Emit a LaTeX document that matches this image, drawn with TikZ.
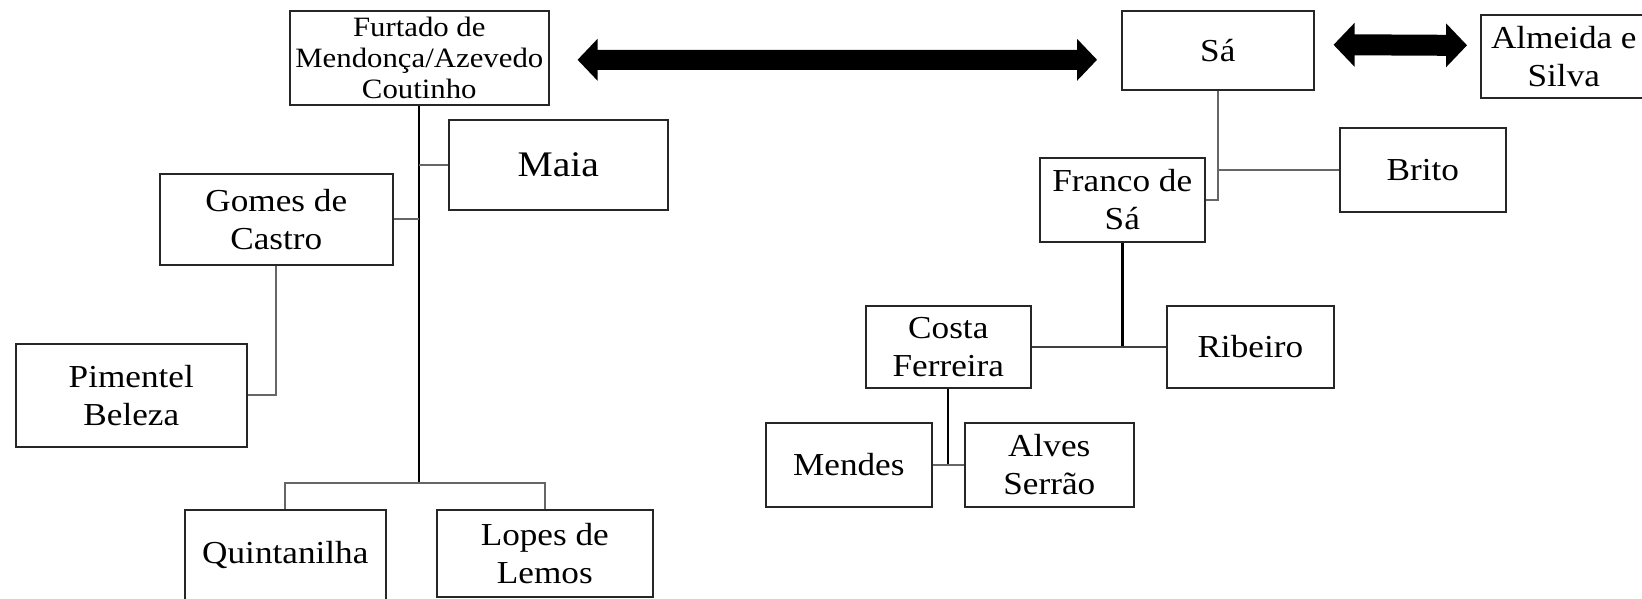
\documentclass[tikz,border=0pt]{standalone}
\usepackage{fontspec}
\setmainfont{Liberation Serif}[FakeStretch=1.1]
\usetikzlibrary{calc}
\tikzset{
  box/.style={draw=black!85, line width=1.6pt, inner sep=0pt, align=center,
    anchor=north west, font=\fontsize{32}{38}\selectfont},
  trunk/.style={draw=black, line width=2pt},
  branch/.style={draw=black!60, line width=1.8pt},
  bigarrowfill/.style={fill=black}
}
\newcommand\bigdarrow[5]{%
  \fill[bigarrowfill] (#1) -- ($(#1)+(#3,-#4)$) -- ($(#1)+(#3,-#5)$) -- ($(#2)+(-#3,-#5)$)
    -- ($(#2)+(-#3,-#4)$) -- (#2) -- ($(#2)+(-#3,#4)$) -- ($(#2)+(-#3,#5)$)
    -- ($(#1)+(#3,#5)$) -- ($(#1)+(#3,#4)$) -- cycle;}
\begin{document}
\begin{tikzpicture}[x=1pt,y=-1pt]
\useasboundingbox (0,0) rectangle (1642,599);
\clip (0,0) rectangle (1642,599);
% left tree
\node[box, minimum width=259pt, minimum height=94pt, font=\fontsize{28}{31}\selectfont] (fur) at (289,10) {Furtado de\\Mendonça/Azevedo\\Coutinho};
\node[box, minimum width=219pt, minimum height=90pt, font=\fontsize{36}{42}\selectfont] (maia) at (448,119) {Maia};
\node[box, minimum width=233pt, minimum height=91pt] (gomes) at (159,173) {Gomes de\\Castro};
\node[box, minimum width=231pt, minimum height=103pt] (pim) at (15,343) {Pimentel\\Beleza};
\node[box, minimum width=201pt, text height=54pt, text depth=87pt] (quin) at (184,509) {Quintanilha};
\node[box, minimum width=216pt, minimum height=87pt] (lopes) at (436,509) {Lopes de\\Lemos};
% right tree
\node[box, minimum width=192pt, minimum height=79pt] (sa) at (1121,10) {Sá};
\node[box, minimum width=166pt, minimum height=83pt] (alm) at (1480,14) {Almeida e\\Silva};
\node[box, minimum width=166pt, minimum height=84pt] (brito) at (1339,127) {Brito};
\node[box, minimum width=165pt, minimum height=84pt] (franco) at (1039,157) {Franco de\\Sá};
\node[box, minimum width=165pt, minimum height=82pt] (costa) at (865,305) {Costa\\Ferreira};
\node[box, minimum width=167pt, minimum height=82pt] (rib) at (1166,305) {Ribeiro};
\node[box, minimum width=166pt, minimum height=84pt] (mendes) at (765,422) {Mendes};
\node[box, minimum width=169pt, minimum height=84pt] (alves) at (964,422) {Alves\\Serrão};
% left connectors
\coordinate (j1) at (fur.south |- 0,483);
\draw[trunk] (fur.south) -- (j1);
\draw[branch] (maia.west) -- (maia.west -| fur.south);
\draw[branch] (gomes.east) -- (gomes.east -| fur.south);
\draw[branch] (gomes.south) |- (pim.east);
\draw[branch] (quin.north) |- (j1) -| (lopes.north);
% right connectors
\draw[branch] (sa.south) |- (franco.east);
\draw[branch] (brito.west) -- (brito.west -| sa.south);
\coordinate (j2) at (franco.south |- costa.east);
\draw[trunk, line width=2.4pt] (franco.south) -- (j2);
\draw[branch, draw=black!75] (costa.east) -- (rib.west);
\draw[trunk] (costa.south) -- (costa.south |- mendes.east);
\draw[branch] (mendes.east) -- (alves.west);
% double arrows
\coordinate (a1) at ([shift={(28,2)}]fur.east);
\coordinate (a2) at ([shift={(-24,9.5)}]sa.west);
\bigdarrow{a1}{a2}{20}{21}{10}
\coordinate (a3) at ([shift={(19,-5.5)}]sa.east);
\coordinate (a4) at ([shift={(-13,-11)}]alm.west);
\bigdarrow{a3}{a4}{21}{22}{10.5}
\end{tikzpicture}
\end{document}
